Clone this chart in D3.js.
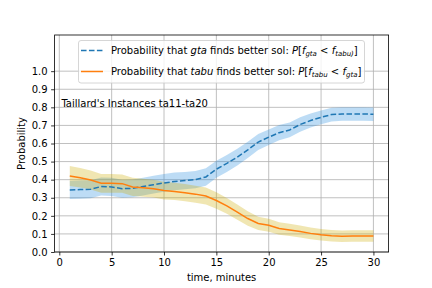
<!DOCTYPE html>
<html>
<head>
<meta charset="utf-8">
<script src="https://cdn.jsdelivr.net/npm/d3@7"></script>
<style>
  body { margin: 0; background: #fff; }
  svg { display: block; font-family: "DejaVu Sans", sans-serif; }
</style>
</head>
<body>
<div id="chart"></div>
<script>
// minutes
var times = [1, 2, 3, 4, 5, 6, 7, 8, 9, 10, 11, 12, 13, 14, 15,
	16, 17, 18, 19, 20, 21, 22, 23, 24, 25, 26, 27, 28, 29, 30];

// probability that gta finds a better solution
var gtaProb = [0.343, 0.345, 0.347, 0.362, 0.360, 0.350, 0.352, 0.362, 0.372, 0.382,
	0.390, 0.395, 0.400, 0.415, 0.458, 0.490, 0.525, 0.565, 0.608, 0.635,
	0.660, 0.675, 0.705, 0.727, 0.745, 0.760, 0.763, 0.763, 0.763, 0.762];
var gtaErr = [0.050, 0.050, 0.050, 0.050, 0.050, 0.050, 0.049, 0.049, 0.049, 0.049,
	0.049, 0.048, 0.048, 0.048, 0.047, 0.047, 0.046, 0.045, 0.044, 0.043,
	0.042, 0.041, 0.040, 0.039, 0.038, 0.038, 0.037, 0.037, 0.037, 0.037];

// probability that tabu finds a better solution
var tabuProb = [0.420, 0.410, 0.398, 0.380, 0.380, 0.378, 0.360, 0.355, 0.350, 0.340,
	0.335, 0.328, 0.320, 0.310, 0.285, 0.255, 0.220, 0.185, 0.158, 0.148,
	0.130, 0.122, 0.113, 0.103, 0.095, 0.090, 0.087, 0.088, 0.088, 0.088];
var tabuErr = [0.055, 0.054, 0.053, 0.052, 0.052, 0.051, 0.050, 0.050, 0.049, 0.049,
	0.048, 0.048, 0.047, 0.047, 0.046, 0.044, 0.042, 0.040, 0.037, 0.036,
	0.035, 0.034, 0.033, 0.033, 0.032, 0.032, 0.032, 0.032, 0.032, 0.032];

var xTicks = [0, 5, 10, 15, 20, 25, 30];
var yTicks = [0.0, 0.1, 0.2, 0.3, 0.4, 0.5, 0.6, 0.7, 0.8, 0.9, 1.0];

var chart = {
	create : function(config) {
		var _width = config.width || 432,
			_height = config.height || 288;

		var plot = { left: 54.6, right: 388.6, top: 35, bottom: 252 };

		var svg = d3.select("#chart").append("svg")
			.attr("width", _width)
			.attr("height", _height);

		var x = d3.scaleLinear().domain([-0.45, 31.45]).range([plot.left, plot.right]);
		var y = d3.scaleLinear().domain([0, 1.2]).range([plot.bottom, plot.top]);

		//
		// grid
		//
		var grid = svg.append("g").attr("class", "grid");
		grid.selectAll("line.gx")
			.data(xTicks)
			.enter()
			.append("line")
			.attr("x1", function(d) { return x(d); })
			.attr("x2", function(d) { return x(d); })
			.attr("y1", plot.top)
			.attr("y2", plot.bottom)
			.attr("stroke", "#b0b0b0")
			.attr("stroke-width", 0.8);
		grid.selectAll("line.gy")
			.data(yTicks)
			.enter()
			.append("line")
			.attr("x1", plot.left)
			.attr("x2", plot.right)
			.attr("y1", function(d) { return y(d); })
			.attr("y2", function(d) { return y(d); })
			.attr("stroke", "#b0b0b0")
			.attr("stroke-width", 0.8);

		//
		// bands and lines
		//
		var series = [
			{ mean: gtaProb, err: gtaErr, line: "#1f77b4", band: "#268ade", dash: "5.55,2.4" },
			{ mean: tabuProb, err: tabuErr, line: "#ff7f0e", band: "#cdac00", dash: null }
		];

		var area = function(s) {
			return d3.area()
				.x(function(d, i) { return x(times[i]); })
				.y0(function(d, i) { return y(s.mean[i] - s.err[i]); })
				.y1(function(d, i) { return y(s.mean[i] + s.err[i]); });
		};
		var line = d3.line()
			.x(function(d, i) { return x(times[i]); })
			.y(function(d) { return y(d); });

		series.forEach(function(s) {
			svg.append("path")
				.attr("d", area(s)(s.mean))
				.attr("fill", s.band)
				.attr("fill-opacity", 0.3);
		});
		series.forEach(function(s) {
			svg.append("path")
				.attr("d", line(s.mean))
				.attr("fill", "none")
				.attr("stroke", s.line)
				.attr("stroke-width", 1.5)
				.attr("stroke-dasharray", s.dash);
		});

		//
		// axes
		//
		var xAxis = d3.axisBottom(x).tickValues(xTicks).tickSize(3.5).tickPadding(3.5)
			.tickFormat(d3.format("d"));
		var yAxis = d3.axisLeft(y).tickValues(yTicks).tickSize(3.5).tickPadding(3.5)
			.tickFormat(d3.format(".1f"));

		var gx = svg.append("g")
			.attr("transform", "translate(0," + plot.bottom + ")")
			.call(xAxis);
		var gy = svg.append("g")
			.attr("transform", "translate(" + plot.left + ",0)")
			.call(yAxis);
		[gx, gy].forEach(function(g) {
			g.select(".domain").remove();
			g.selectAll("line").attr("stroke", "#000").attr("stroke-width", 0.8);
			g.selectAll("text").attr("font-size", 10).attr("fill", "#000")
				.attr("font-family", "DejaVu Sans, sans-serif");
		});

		svg.append("rect")
			.attr("x", plot.left)
			.attr("y", plot.top)
			.attr("width", plot.right - plot.left)
			.attr("height", plot.bottom - plot.top)
			.attr("fill", "none")
			.attr("stroke", "#000")
			.attr("stroke-width", 0.8);

		svg.append("text")
			.attr("x", (plot.left + plot.right) / 2)
			.attr("y", 281)
			.attr("text-anchor", "middle")
			.attr("font-size", 10)
			.text("time, minutes");

		svg.append("text")
			.attr("transform", "translate(25," + (plot.top + plot.bottom) / 2 + ") rotate(-90)")
			.attr("text-anchor", "middle")
			.attr("font-size", 10)
			.text("Probability");

		svg.append("text")
			.attr("x", x(0.2))
			.attr("y", y(0.8))
			.attr("font-size", 10)
			.text("Taillard's Instances ta11-ta20");

		//
		// legend
		//
		var legend = svg.append("g").attr("class", "legend");
		legend.append("rect")
			.attr("x", 78.5)
			.attr("y", 40.5)
			.attr("width", 286)
			.attr("height", 42.5)
			.attr("rx", 2.5)
			.attr("fill", "#fff")
			.attr("fill-opacity", 0.8)
			.attr("stroke", "#cccccc")
			.attr("stroke-width", 0.8);

		var entries = [
			{ color: "#1f77b4", dash: "5.55,2.4", who: "gta", a: "gta", b: "tabu)" },
			{ color: "#ff7f0e", dash: null, who: "tabu", a: "tabu", b: "gta" }
		];
		entries.forEach(function(e, i) {
			var cy = 50.5 + i * 21;
			legend.append("line")
				.attr("x1", 81).attr("x2", 103)
				.attr("y1", cy).attr("y2", cy)
				.attr("stroke", e.color)
				.attr("stroke-width", 1.5)
				.attr("stroke-dasharray", e.dash);
			var t = legend.append("text")
				.attr("x", 111)
				.attr("y", cy + 3.6)
				.attr("font-size", 10);
			t.append("tspan").text("Probability that ");
			t.append("tspan").attr("font-style", "italic").text(e.who);
			t.append("tspan").text(" finds better sol: ");
			t.append("tspan").attr("font-style", "italic").text("P");
			t.append("tspan").text("[");
			t.append("tspan").attr("font-style", "italic").text("f");
			t.append("tspan").attr("font-style", "italic").attr("font-size", 7)
				.attr("dy", 2).text(e.a);
			t.append("tspan").attr("dy", -2).text(" < ");
			t.append("tspan").attr("font-style", "italic").text("f");
			t.append("tspan").attr("font-style", "italic").attr("font-size", 7)
				.attr("dy", 2).text(e.b);
			t.append("tspan").attr("dy", -2).text("]");
		});
	}
};

chart.create({ width: 432, height: 288 });
</script>
</body>
</html>
